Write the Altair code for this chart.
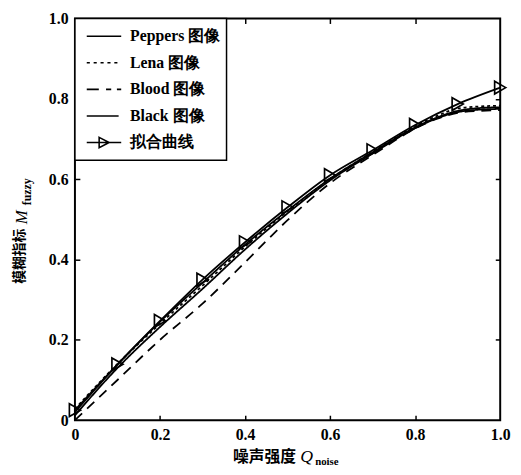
import altair as alt
import pandas as pd

# ---- data ----
noise = [0.0, 0.1, 0.2, 0.3, 0.4, 0.5, 0.6, 0.7, 0.8, 0.85, 0.9, 0.95, 1.0]
peppers = [0.020, 0.138, 0.245, 0.342, 0.437, 0.522, 0.601, 0.667, 0.729, 0.753, 0.770, 0.777, 0.779]
lena = [0.028, 0.140, 0.240, 0.335, 0.432, 0.520, 0.600, 0.668, 0.732, 0.757, 0.776, 0.781, 0.783]
blood = [0.000, 0.100, 0.200, 0.290, 0.393, 0.498, 0.590, 0.660, 0.726, 0.750, 0.765, 0.770, 0.772]
black = [0.012, 0.130, 0.232, 0.327, 0.425, 0.515, 0.597, 0.664, 0.727, 0.751, 0.767, 0.773, 0.775]

fit_x = [0.0, 0.1, 0.2, 0.3, 0.4, 0.5, 0.6, 0.7, 0.8, 0.9, 1.0]
fit_y = [0.025, 0.139, 0.247, 0.350, 0.443, 0.530, 0.610, 0.672, 0.735, 0.787, 0.828]

series_names = ["Peppers 图像", "Lena 图像", "Blood 图像", "Black 图像", "拟合曲线"]
label_vals = [0.0, 0.2, 0.4, 0.6, 0.8, 1.0]
tick_vals = [0.2, 0.4, 0.6, 0.8]
x_title = ["噪声强度", "Q", "noise"]
y_title = ["模糊指标", "M", "fuzzy"]

# ---- tables ----
rows = []
for name, vals in zip(series_names[:4], [peppers, lena, blood, black]):
    for xv, yv in zip(noise, vals):
        rows.append({"series": name, "x": xv, "y": yv})
lines_df = pd.DataFrame(rows)
fit_df = pd.DataFrame({"x": fit_x, "y": fit_y, "series": series_names[4]})
legend_df = pd.DataFrame({"series": series_names})

W, H = 432, 408
SERIF = "Liberation Serif"
CJK = "Noto Sans CJK SC"

xs = alt.Scale(domain=[0, 1], nice=False, zero=False)
ys = alt.Scale(domain=[0, 1], nice=False, zero=False)

fmt = "datum.value == 0 ? '0' : format(datum.value, '.1f')"


def label_axis(orient, pad):
    return alt.Axis(orient=orient, values=label_vals, ticks=False, domain=False, grid=False,
                    labelFont=SERIF, labelFontSize=16, labelFontWeight="bold",
                    labelColor="black", labelPadding=pad, labelFlush=False,
                    labelOverlap=False, labelExpr=fmt, title=None)


def tick_axis(orient):
    return alt.Axis(orient=orient, offset=-5, values=tick_vals, ticks=True, tickSize=5,
                    tickWidth=1.5, tickColor="black", labels=False, domain=False,
                    grid=False, title=None)


dash_scale = alt.Scale(domain=series_names[:4], range=[[1, 0], [3, 3], [10, 7], [1, 0]])

lines = alt.Chart(lines_df).mark_line(color="black", strokeWidth=1.8, interpolate="monotone").encode(
    x=alt.X("x:Q", scale=xs, axis=label_axis("bottom", 7)),
    y=alt.Y("y:Q", scale=ys, axis=label_axis("left", 7)),
    strokeDash=alt.StrokeDash("series:N", scale=dash_scale, legend=None),
    detail="series:N",
)

fit_line = alt.Chart(fit_df).mark_line(color="black", strokeWidth=1.8, interpolate="monotone").encode(
    x=alt.X("x:Q", scale=xs, axis=tick_axis("top")),
    y=alt.Y("y:Q", scale=ys, axis=tick_axis("right")),
)

fit_pts = alt.Chart(fit_df).mark_point(shape="triangle-right", filled=False, size=170,
                                       strokeWidth=1.7, color="black", opacity=1).encode(
    x=alt.X("x:Q", scale=xs, axis=tick_axis("bottom")),
    y=alt.Y("y:Q", scale=ys, axis=tick_axis("left")),
)

paths = [
    "M-1,0H1",
    "M-1,0H-0.82M-0.6,0H-0.42M-0.2,0H-0.02M0.2,0H0.38M0.6,0H0.78",
    "M-1,0H-0.3M0.12,0H0.42M0.75,0H1",
    "M-1,0H0.85",
    "M-1,0H1M-0.28,-0.3L0.3,0L-0.28,0.3Z",
]

legend_layer = alt.Chart(legend_df).mark_point(filled=False, color="black", opacity=0).encode(
    shape=alt.Shape("series:N", scale=alt.Scale(domain=series_names, range=paths),
                    legend=alt.Legend(title=None, orient="none", legendX=0, legendY=0,
                                      symbolSize=1225, symbolStrokeWidth=1.6,
                                      symbolStrokeColor="black", symbolOpacity=1,
                                      symbolOffset=5, labelOffset=8,
                                      labelFont=SERIF, labelFontSize=16, labelFontWeight="bold",
                                      labelColor="black", clipHeight=24, rowPadding=3,
                                      padding=6, fillColor="white", strokeColor="black",
                                      cornerRadius=0, zindex=1)),
)


def txt(s, x, y, **kw):
    return alt.Chart(pd.DataFrame({"t": [s]})).mark_text(**kw).encode(
        x=alt.value(x), y=alt.value(y), text="t:N")


titles = [
    txt(x_title[0], 192.5, 446, font=CJK, fontSize=16, fontWeight="bold", align="center", baseline="middle", color="black"),
    txt(x_title[1], 229, 445, font=SERIF, fontSize=18, fontStyle="italic", align="left", baseline="middle", color="black"),
    txt(x_title[2], 244, 451, font=SERIF, fontSize=11, fontWeight="bold", align="left", baseline="middle", color="black"),
    txt(y_title[0], -56, 241.5, font=CJK, fontSize=14, fontWeight="bold", angle=270, align="center", baseline="middle", color="black"),
    txt(y_title[1], -54, 202, font=SERIF, fontSize=17, fontStyle="italic", angle=270, align="center", baseline="middle", color="black"),
    txt(y_title[2], -49, 176, font=SERIF, fontSize=12, fontWeight="bold", angle=270, align="center", baseline="middle", color="black"),
]

chart = alt.layer(lines, fit_line, fit_pts, legend_layer, *titles).resolve_axis(
    x="independent", y="independent"
).properties(
    width=W, height=H,
    autosize=alt.AutoSizeParams(type="none"),
    padding={"left": 68, "top": 7, "right": 13, "bottom": 52},
    background="white",
).configure_view(stroke="black", strokeWidth=2).configure_legend(strokeWidth=1.5)

chart.save("out.html", embed_options={"renderer": "svg", "actions": False})
